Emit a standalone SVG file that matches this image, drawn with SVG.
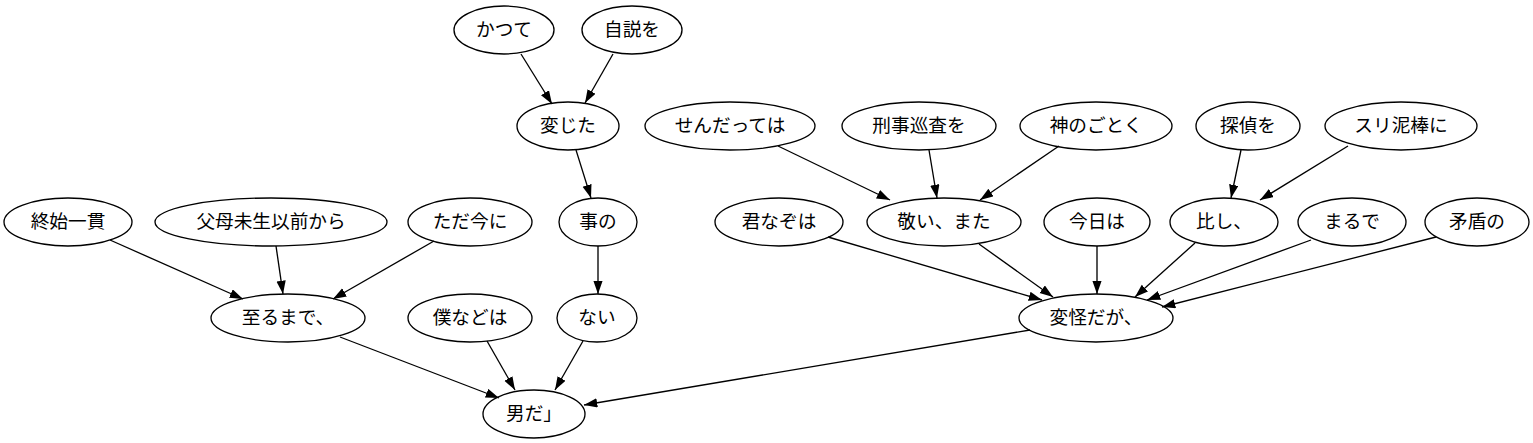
<svg xmlns="http://www.w3.org/2000/svg" width="1533" height="443" viewBox="0 0 1533 443">
<style>
ellipse{fill:none;stroke:#000;stroke-width:1.33}
text{font-family:"Noto Sans CJK JP","Noto Sans CJK SC",sans-serif;font-size:18.67px;text-anchor:middle;fill:#000}
#edges line{stroke:#000;stroke-width:1.33;marker-end:url(#ah)}
</style>
<defs>
<marker id="ah" markerUnits="userSpaceOnUse" markerWidth="15" markerHeight="11" refX="13.3" refY="4.67" orient="auto">
<path d="M0,0 L13.3,4.67 L0,9.33 z" fill="#000"/>
</marker>
</defs>
<rect width="1533" height="443" fill="#fff"/>
<g id="edges">
<line x1="521" y1="54" x2="552" y2="104"/>
<line x1="613" y1="54" x2="585" y2="103"/>
<line x1="576" y1="150" x2="591" y2="198"/>
<line x1="598" y1="246" x2="598" y2="294"/>
<line x1="583" y1="341" x2="555" y2="390"/>
<line x1="487" y1="341" x2="515" y2="390"/>
<line x1="340" y1="337" x2="499" y2="398"/>
<line x1="1030" y1="330" x2="584" y2="405"/>
<line x1="110" y1="240" x2="243" y2="299"/>
<line x1="276" y1="246" x2="283" y2="294"/>
<line x1="434" y1="241" x2="333" y2="299"/>
<line x1="778" y1="146" x2="890" y2="200"/>
<line x1="929" y1="150" x2="937" y2="198"/>
<line x1="1059" y1="146" x2="980" y2="200"/>
<line x1="1241" y1="150" x2="1231" y2="198"/>
<line x1="1348" y1="146" x2="1260" y2="200"/>
<line x1="828" y1="237" x2="1042" y2="300"/>
<line x1="979" y1="244" x2="1053" y2="297"/>
<line x1="1097" y1="246" x2="1097" y2="294"/>
<line x1="1195" y1="243" x2="1135" y2="297"/>
<line x1="1311" y1="240" x2="1147" y2="300"/>
<line x1="1436" y1="237" x2="1162" y2="307"/>
</g>
<g id="n_katsute"><ellipse cx="504" cy="30" rx="50" ry="24"/><text x="504" y="36">かつて</text></g>
<g id="n_jisetsu"><ellipse cx="632" cy="30" rx="50" ry="24"/><text x="632" y="36">自説を</text></g>
<g id="n_henjita"><ellipse cx="568" cy="126" rx="51" ry="24"/><text x="568" y="132">変じた</text></g>
<g id="n_kotono"><ellipse cx="598" cy="222" rx="39" ry="24"/><text x="598" y="228">事の</text></g>
<g id="n_nai"><ellipse cx="597" cy="318" rx="40" ry="24"/><text x="597" y="324">ない</text></g>
<g id="n_otoko"><ellipse cx="534" cy="414" rx="51" ry="24"/><text x="534" y="420">男だ」</text></g>
<g id="n_shishi"><ellipse cx="68" cy="222" rx="64" ry="24"/><text x="68" y="228">終始一貫</text></g>
<g id="n_fubo"><ellipse cx="271" cy="222" rx="116" ry="24"/><text x="271" y="228">父母未生以前から</text></g>
<g id="n_tadaima"><ellipse cx="470" cy="222" rx="62" ry="24"/><text x="470" y="228">ただ今に</text></g>
<g id="n_itaru"><ellipse cx="288" cy="318" rx="77" ry="24"/><text x="288" y="324">至るまで、</text></g>
<g id="n_boku"><ellipse cx="470" cy="318" rx="62" ry="24"/><text x="470" y="324">僕などは</text></g>
<g id="n_sendatte"><ellipse cx="730" cy="126" rx="85" ry="24"/><text x="730" y="132">せんだっては</text></g>
<g id="n_keiji"><ellipse cx="919" cy="126" rx="77" ry="24"/><text x="919" y="132">刑事巡査を</text></g>
<g id="n_kami"><ellipse cx="1096" cy="126" rx="76" ry="24"/><text x="1096" y="132">神のごとく</text></g>
<g id="n_tantei"><ellipse cx="1248" cy="126" rx="52" ry="24"/><text x="1248" y="132">探偵を</text></g>
<g id="n_suri"><ellipse cx="1401" cy="126" rx="76" ry="24"/><text x="1401" y="132">スリ泥棒に</text></g>
<g id="n_kimi"><ellipse cx="779" cy="222" rx="64" ry="24"/><text x="779" y="228">君なぞは</text></g>
<g id="n_uyamai"><ellipse cx="944" cy="222" rx="77" ry="24"/><text x="944" y="228">敬い、また</text></g>
<g id="n_konnichi"><ellipse cx="1097" cy="222" rx="53" ry="24"/><text x="1097" y="228">今日は</text></g>
<g id="n_hishi"><ellipse cx="1224" cy="222" rx="54" ry="24"/><text x="1224" y="228">比し、</text></g>
<g id="n_marude"><ellipse cx="1352" cy="222" rx="54" ry="24"/><text x="1352" y="228">まるで</text></g>
<g id="n_mujun"><ellipse cx="1477" cy="222" rx="52" ry="24"/><text x="1477" y="228">矛盾の</text></g>
<g id="n_henkai"><ellipse cx="1096" cy="318" rx="77" ry="24"/><text x="1096" y="324">変怪だが、</text></g>
</svg>
